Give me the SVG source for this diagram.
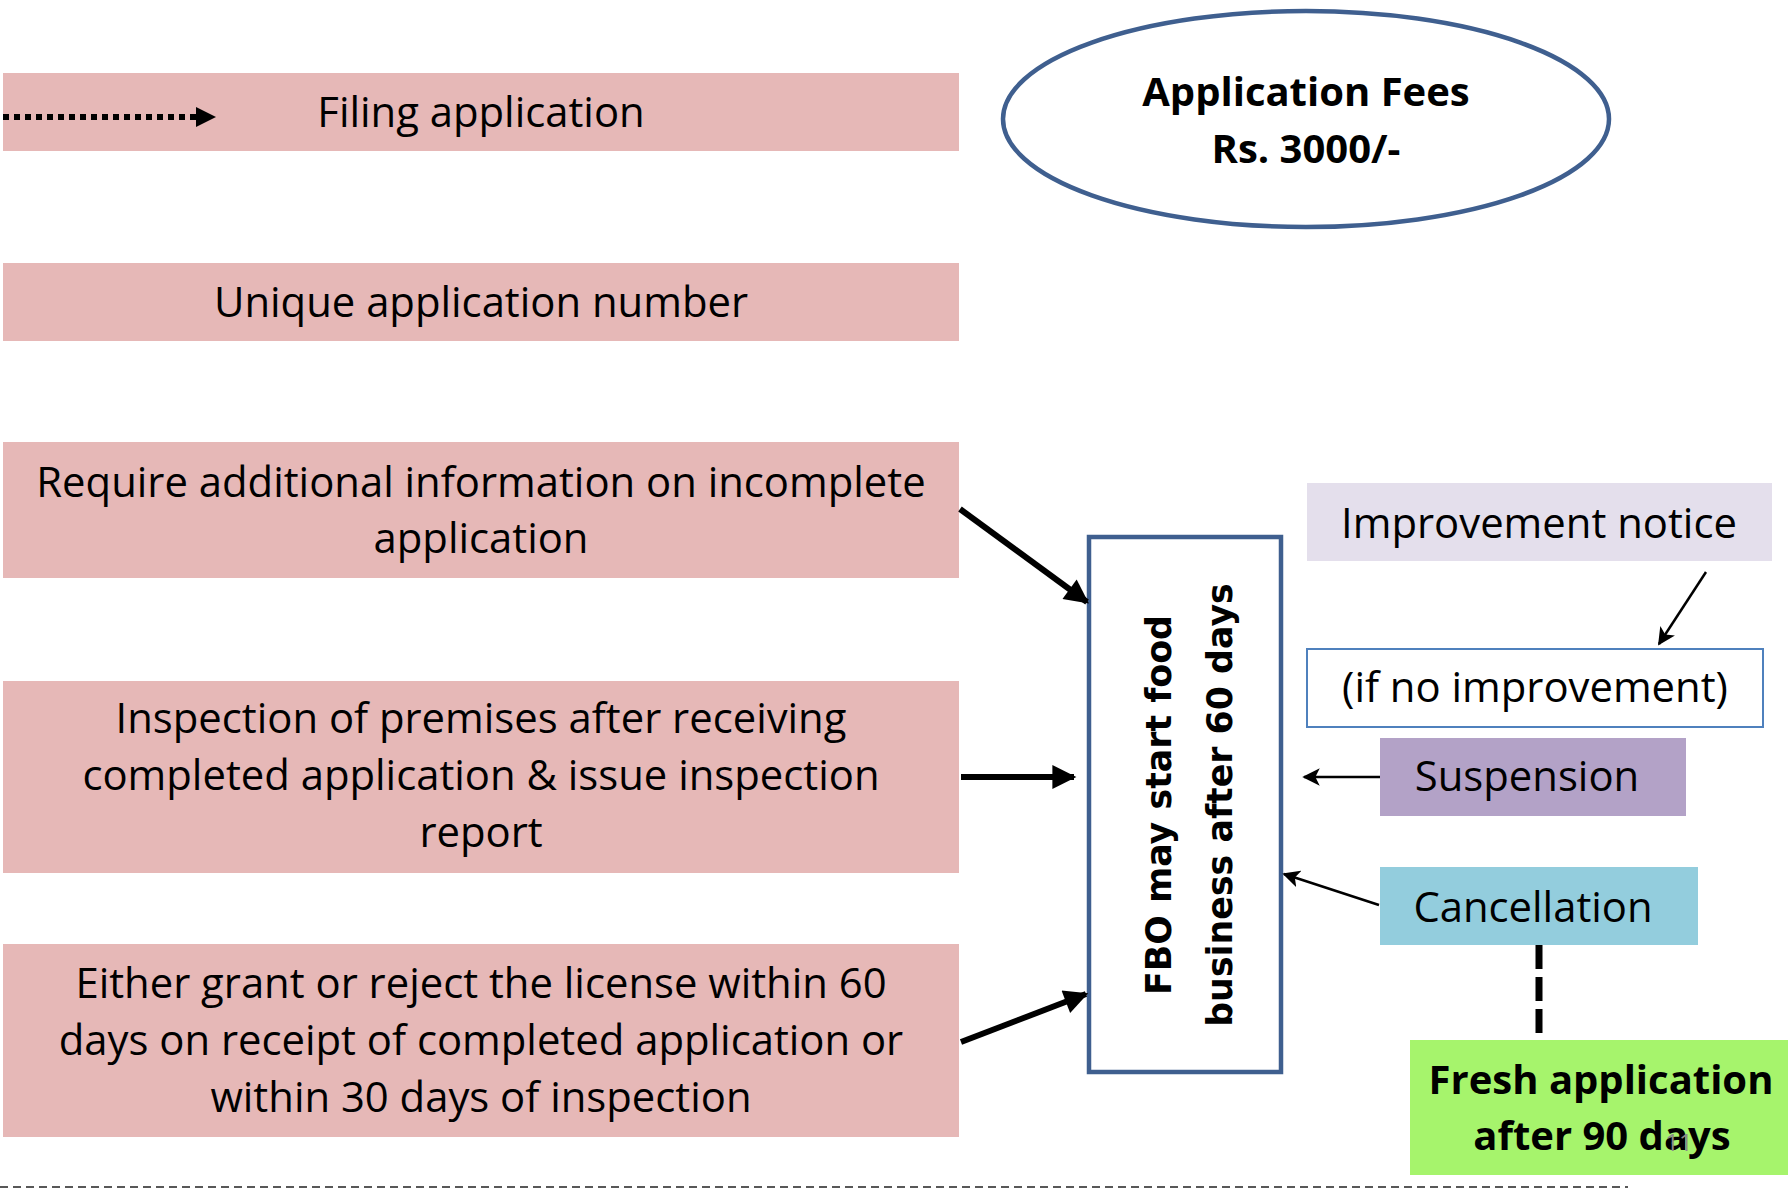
<svg xmlns="http://www.w3.org/2000/svg" width="1788" height="1189" viewBox="0 0 1788 1189">
<style>
.pink{fill:#e6b8b7}
.t{font-family:"Open Sans","Liberation Sans",sans-serif;font-size:41.8px;fill:#000;text-anchor:middle}
.b{font-family:"Open Sans","Liberation Sans",sans-serif;font-size:40px;font-weight:bold;fill:#000;text-anchor:middle}
.v{font-family:"DejaVu Sans","Liberation Sans",sans-serif;font-size:34.8px;font-weight:bold;fill:#000;text-anchor:middle}
.thick{stroke:#000;stroke-width:6;fill:none}
.thin{stroke:#000;stroke-width:2.5;fill:none}
</style>
<defs>
<marker id="ah" viewBox="0 0 10 10" refX="9" refY="5" markerWidth="4.5" markerHeight="4" markerUnits="strokeWidth" orient="auto">
<path d="M0,0 L10,5 L0,10 Z" fill="#000"/>
</marker>
<marker id="ahs" viewBox="0 0 10 10" refX="9" refY="5" markerWidth="7" markerHeight="7" markerUnits="strokeWidth" orient="auto">
<path d="M0,0 L10,5 L0,10 L2.5,5 Z" fill="#000"/>
</marker>
</defs>

<g id="filing">
<rect class="pink" x="3" y="73" width="956" height="78"/>
<text class="t" x="481" y="127">Filing application</text>
</g>
<g id="unique">
<rect class="pink" x="3" y="263" width="956" height="78"/>
<text class="t" x="481" y="317">Unique application number</text>
</g>
<g id="require">
<rect class="pink" x="3" y="442" width="956" height="136"/>
<text class="t" x="481" y="497">Require additional information on incomplete</text>
<text class="t" x="481" y="553">application</text>
</g>
<g id="inspection">
<rect class="pink" x="3" y="681" width="956" height="192"/>
<text class="t" x="481" y="733">Inspection of premises after receiving</text>
<text class="t" x="481" y="790">completed application &amp; issue inspection</text>
<text class="t" x="481" y="847">report</text>
</g>
<g id="grant">
<rect class="pink" x="3" y="944" width="956" height="193"/>
<text class="t" x="481" y="998">Either grant or reject the license within 60</text>
<text class="t" x="481" y="1055">days on receipt of completed application or</text>
<text class="t" x="481" y="1112">within 30 days of inspection</text>
</g>

<g id="fees">
<ellipse cx="1306" cy="119" rx="303" ry="108" fill="#fff" stroke="#3f5f8f" stroke-width="4.5"/>
<text class="b" x="1306" y="106">Application Fees</text>
<text class="b" x="1306" y="163">Rs. 3000/-</text>
</g>

<g id="fbo">
<rect x="1089" y="537" width="192" height="535" fill="#fff" stroke="#3f5f8f" stroke-width="4.5"/>
<text class="v" transform="translate(1171,805) rotate(-90)">FBO may start food</text>
<text class="v" transform="translate(1232,805) rotate(-90)">business after 60 days</text>
</g>

<g id="improvement">
<rect x="1307" y="483" width="465" height="78" fill="#e4dfec"/>
<text class="t" x="1539" y="538">Improvement notice</text>
</g>
<g id="noimprovement">
<rect x="1307" y="649" width="456" height="78" fill="#fff" stroke="#4f81bd" stroke-width="2"/>
<text class="t" x="1535" y="702">(if no improvement)</text>
</g>
<g id="suspension">
<rect x="1380" y="738" width="306" height="78" fill="#b3a2c7"/>
<text class="t" x="1527" y="791">Suspension</text>
</g>
<g id="cancellation">
<rect x="1380" y="867" width="318" height="78" fill="#93cddd"/>
<text class="t" x="1533" y="922">Cancellation</text>
</g>
<g id="fresh">
<rect x="1410" y="1040" width="378" height="135" fill="#a6f46c"/>
<text class="b" x="1601" y="1094">Fresh application</text>
<text class="b" x="1602" y="1150">after 90 days</text>
</g>

<g id="connectors">
<line x1="3" y1="117" x2="198" y2="117" stroke="#000" stroke-width="6" stroke-dasharray="6 5"/>
<path d="M196,107 L216,117 L196,127 Z" fill="#000"/>
<line class="thick" x1="960" y1="509" x2="1087" y2="602" marker-end="url(#ah)"/>
<line class="thick" x1="961" y1="777" x2="1074" y2="777" marker-end="url(#ah)"/>
<line class="thick" x1="961" y1="1042" x2="1086" y2="994" marker-end="url(#ah)"/>
<line class="thin" x1="1706" y1="572" x2="1659" y2="644" marker-end="url(#ahs)"/>
<line class="thin" x1="1380" y1="777" x2="1304" y2="777" marker-end="url(#ahs)"/>
<line class="thin" x1="1379" y1="905" x2="1284" y2="874" marker-end="url(#ahs)"/>
<line x1="1539" y1="945" x2="1539" y2="1034" stroke="#000" stroke-width="7" stroke-dasharray="24 8"/>
</g>

<line x1="0" y1="1187" x2="1628" y2="1187" stroke="#222" stroke-width="1.5" stroke-dasharray="8 5"/>
<text x="1679" y="1151" font-family="Open Sans, Liberation Sans, sans-serif" font-size="24" fill="#8a8a8a" text-anchor="middle">11</text>
</svg>
